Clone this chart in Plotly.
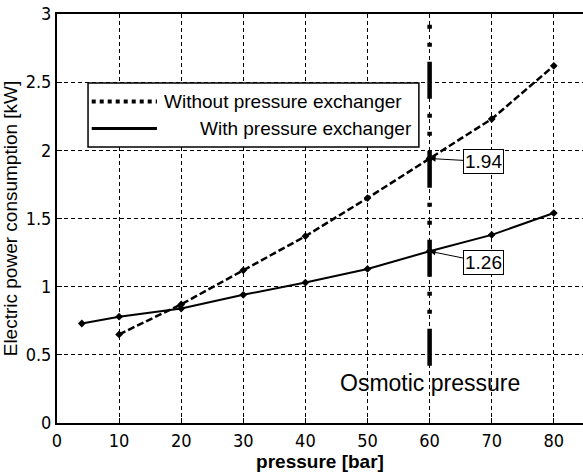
import plotly.graph_objects as go

# Data
p_without = [10, 20, 30, 40, 50, 60, 70, 80]
e_without = [0.65, 0.87, 1.12, 1.37, 1.65, 1.94, 2.23, 2.62]
p_with = [4, 10, 20, 30, 40, 50, 60, 70, 80]
e_with = [0.73, 0.78, 0.84, 0.94, 1.03, 1.13, 1.26, 1.38, 1.54]
osmotic_x = [60, 60]
osmotic_y = [0.42, 2.95]
x_ticks = [0, 10, 20, 30, 40, 50, 60, 70, 80]
y_ticks = [0, 0.5, 1, 1.5, 2, 2.5, 3]
y_ticklabels = ["0", "0.5", "1", "1.5", "2", "2.5", "3"]
legend_names = ["Without pressure exchanger", "With pressure exchanger"]

font_main = "Liberation Sans, Arial, sans-serif"
font_narrow = "Liberation Sans Narrow, DejaVu Sans Condensed, sans-serif"

fig = go.Figure()
fig.add_trace(go.Scatter(
    x=osmotic_x, y=osmotic_y, mode="lines", showlegend=False,
    line=dict(color="black", width=4.5, dash="37px,15px,4px,14px,4px,15px"),
    hoverinfo="skip"))
fig.add_trace(go.Scatter(
    x=p_without, y=e_without, mode="lines+markers", showlegend=False,
    name=legend_names[0],
    line=dict(color="black", width=2.5, dash="7px,3px"),
    marker=dict(color="black", size=6, symbol="diamond")))
fig.add_trace(go.Scatter(
    x=p_with, y=e_with, mode="lines+markers", showlegend=False,
    name=legend_names[1],
    line=dict(color="black", width=2),
    marker=dict(color="black", size=6, symbol="diamond")))

# value call-outs
for xv, yv, ay in [(p_without[5], e_without[5], 3), (p_with[6], e_with[6], 11)]:
    fig.add_annotation(x=xv, y=yv, text=f"{yv:.2f}", showarrow=True, arrowhead=2,
                       arrowsize=1.2, arrowwidth=1, arrowcolor="black",
                       ax=54, ay=ay, bordercolor="black", borderwidth=1, borderpad=1,
                       bgcolor="white", font=dict(family=font_main, size=19, color="black"))
fig.add_annotation(x=60, y=0.293, text="Osmotic pressure", showarrow=False,
                   font=dict(family=font_main, size=23, color="black"))

# legend box (drawn manually to mimic the original)
fig.add_shape(type="rect", xref="paper", yref="paper", x0=0.059, x1=0.688, y0=0.675, y1=0.831,
              line=dict(color="black", width=1.5), fillcolor="white", layer="above")
fig.add_shape(type="line", xref="paper", yref="paper", x0=0.066, x1=0.190, y0=0.786, y1=0.786,
              line=dict(color="black", width=4, dash="4px,4px"), layer="above")
fig.add_shape(type="line", xref="paper", yref="paper", x0=0.066, x1=0.190, y0=0.720, y1=0.720,
              line=dict(color="black", width=3), layer="above")
fig.add_annotation(xref="paper", yref="paper", x=0.1996, y=0.786, xanchor="left", yanchor="middle",
                   text=legend_names[0], showarrow=False,
                   font=dict(family=font_main, size=19, color="black"))
fig.add_annotation(xref="paper", yref="paper", x=0.679, y=0.720, xanchor="right", yanchor="middle",
                   text=legend_names[1], showarrow=False,
                   font=dict(family=font_main, size=19, color="black"))

fig.update_layout(
    width=583, height=473,
    margin=dict(l=57, r=0, t=14, b=50),
    plot_bgcolor="white", paper_bgcolor="white",
    font=dict(family=font_main, color="black"),
    showlegend=False,
    xaxis=dict(range=[0, 84.7], tickvals=x_ticks, ticktext=[str(v) for v in x_ticks],
               showgrid=True, gridcolor="black", griddash="4px,3px", gridwidth=1,
               showline=True, linecolor="black", linewidth=2, mirror=True,
               ticks="inside", ticklen=5, tickcolor="black",
               tickfont=dict(family=font_narrow, size=18),
               title=dict(text="<b>pressure [bar]</b>", standoff=4,
                          font=dict(family=font_main, size=19)),
               zeroline=False),
    yaxis=dict(range=[0, 3], tickvals=y_ticks, ticktext=y_ticklabels,
               showgrid=True, gridcolor="black", griddash="4px,3px", gridwidth=1,
               showline=True, linecolor="black", linewidth=2,
               ticks="inside", ticklen=5, tickcolor="black",
               tickfont=dict(family=font_narrow, size=18),
               title=dict(text="Electric power consumption [kW]", standoff=4,
                          font=dict(family=font_main, size=19)),
               zeroline=False),
)

fig.write_html("out.html")
